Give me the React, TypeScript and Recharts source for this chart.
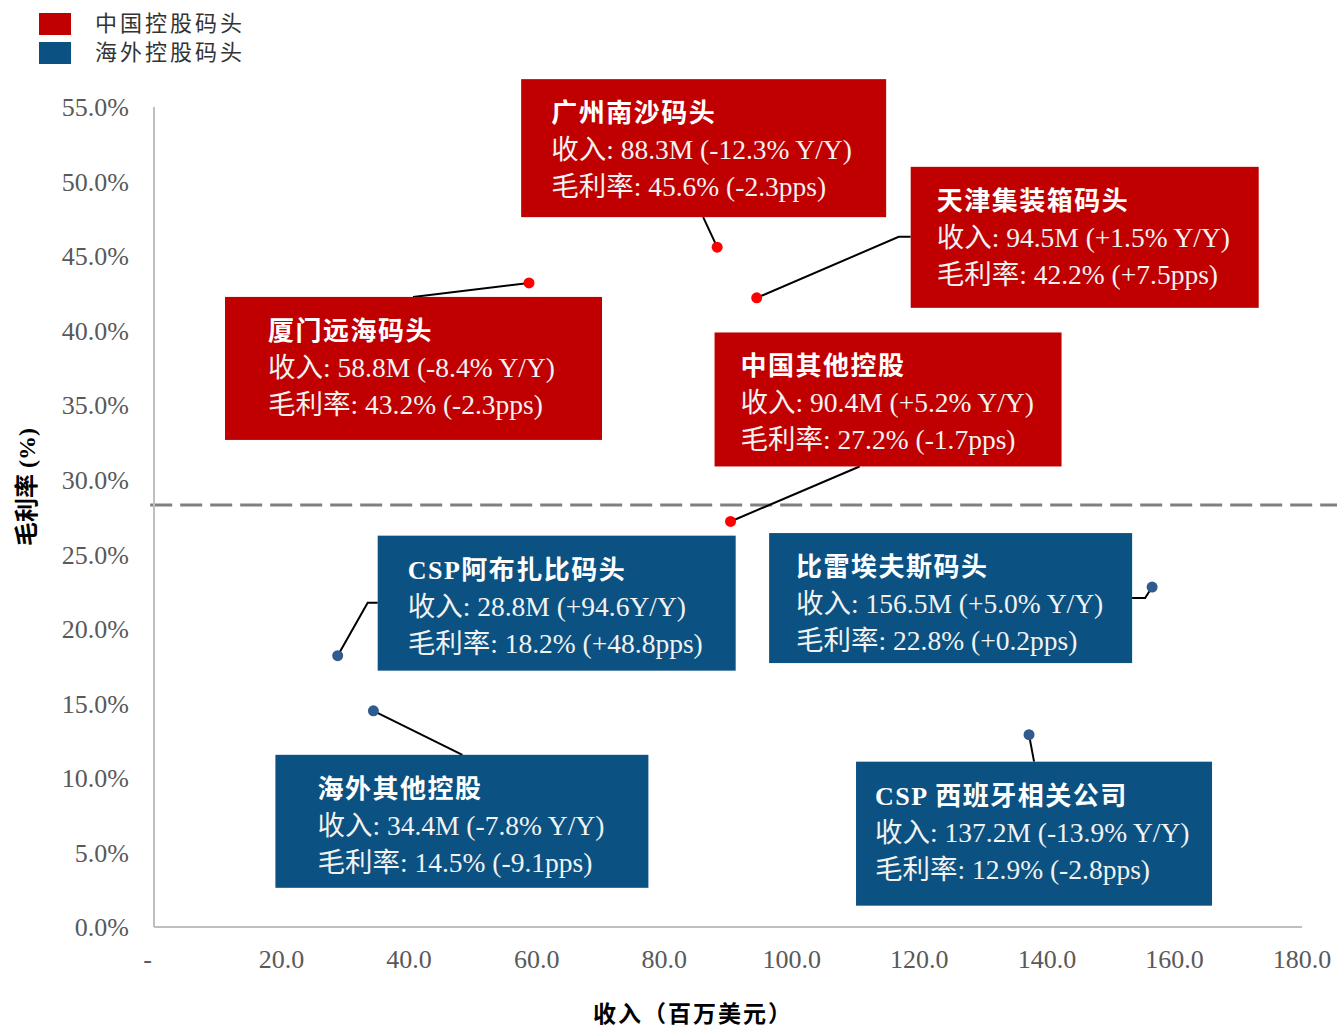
import React from "react";
import { ReferenceLine, Scatter, ScatterChart, XAxis, YAxis } from "recharts";

// ---- data ----
const chinaNames = ["广州南沙码头", "天津集装箱码头", "厦门远海码头", "中国其他控股"];
const chinaRevenue = [88.3, 94.5, 58.8, 90.4];
const chinaMargin = [45.6, 42.2, 43.2, 27.2];
const chinaRevChange = ["-12.3% Y/Y", "+1.5% Y/Y", "-8.4% Y/Y", "+5.2% Y/Y"];
const chinaMarginChange = ["-2.3pps", "+7.5pps", "-2.3pps", "-1.7pps"];

const overseasNames = ["CSP阿布扎比码头", "比雷埃夫斯码头", "海外其他控股", "CSP 西班牙相关公司"];
const overseasRevenue = [28.8, 156.5, 34.4, 137.2];
const overseasMargin = [18.2, 22.8, 14.5, 12.9];
const overseasRevChange = ["+94.6Y/Y", "+5.0% Y/Y", "-7.8% Y/Y", "-13.9% Y/Y"];
const overseasMarginChange = ["+48.8pps", "+0.2pps", "-9.1pps", "-2.8pps"];

const averageMargin = 28.3;

const xTicks = [0, 20, 40, 60, 80, 100, 120, 140, 160, 180];
const yTicks = [0, 5, 10, 15, 20, 25, 30, 35, 40, 45, 50, 55];

const legendLabels = ["中国控股码头", "海外控股码头"];

// ---- callout layout (pixel offsets from each point) ----
type Callout = {
  dx: number;
  dy: number;
  w: number;
  h: number;
  pad: number;
  leader: [number, number][];
};

const LAYOUT: Record<string, Callout> = {
  广州南沙码头: { dx: -196, dy: -168, w: 365, h: 138, pad: 30, leader: [[-14, -30]] },
  天津集装箱码头: { dx: 154, dy: -131, w: 348, h: 141, pad: 26, leader: [[142, -61], [154, -61]] },
  厦门远海码头: { dx: -304, dy: 14, w: 377, h: 143, pad: 43, leader: [[-116, 14]] },
  中国其他控股: { dx: -16, dy: -189, w: 347, h: 134, pad: 26, leader: [[129, -55]] },
  CSP阿布扎比码头: { dx: 40, dy: -120, w: 358, h: 135, pad: 30, leader: [[30, -53], [40, -53]] },
  比雷埃夫斯码头: { dx: -383, dy: -54, w: 363, h: 130, pad: 27, leader: [[-7, 11], [-20, 11]] },
  海外其他控股: { dx: -98, dy: 44, w: 373, h: 133, pad: 42, leader: [[89, 44]] },
  "CSP 西班牙相关公司": { dx: -173, dy: 27, w: 356, h: 144, pad: 19, leader: [[5, 27]] },
};

const RED_BOX = "#C00000";
const BLUE_BOX = "#0B5283";
const RED_DOT = "#FF0000";
const BLUE_DOT = "#2F5B8F";
const FONT = '"Liberation Serif", "Noto Sans CJK SC", serif';

type Point = {
  name: string;
  x: number;
  y: number;
  revChange: string;
  marginChange: string;
};

const chinaData: Point[] = chinaNames.map((name, i) => ({
  name,
  x: chinaRevenue[i],
  y: chinaMargin[i],
  revChange: chinaRevChange[i],
  marginChange: chinaMarginChange[i],
}));

const overseasData: Point[] = overseasNames.map((name, i) => ({
  name,
  x: overseasRevenue[i],
  y: overseasMargin[i],
  revChange: overseasRevChange[i],
  marginChange: overseasMarginChange[i],
}));

const makeShape = (boxColor: string, dotColor: string) => (props: any) => {
  const { cx, cy, payload } = props;
  const p = payload as Point;
  const l = LAYOUT[p.name];
  if (cx == null || cy == null || !l) return <g />;
  const bx = cx + l.dx;
  const by = cy + l.dy;
  const path = [[0, 0], ...l.leader]
    .map(([dx, dy], i) => `${i ? "L" : "M"}${cx + dx},${cy + dy}`)
    .join(" ");
  return (
    <g>
      <path d={path} stroke="#000" strokeWidth={2} fill="none" />
      <rect x={bx} y={by} width={l.w} height={l.h} fill={boxColor} />
      <text
        x={bx + l.pad}
        y={by + 43}
        fill="#fff"
        fontSize={26}
        fontWeight={700}
        letterSpacing={1.5}
        fontFamily={FONT}
      >
        {p.name}
      </text>
      <text x={bx + l.pad} y={by + 80} fill="#F2F2F2" fontSize={27.5} fontFamily={FONT}>
        {`收入: ${p.x.toFixed(1)}M (${p.revChange})`}
      </text>
      <text x={bx + l.pad} y={by + 117} fill="#F2F2F2" fontSize={27.5} fontFamily={FONT}>
        {`毛利率: ${p.y.toFixed(1)}% (${p.marginChange})`}
      </text>
      <circle cx={cx} cy={cy} r={5.5} fill={dotColor} />
    </g>
  );
};

const LegendBox = () => (
  <div style={{ position: "absolute", left: 39, top: 9, fontFamily: FONT }}>
    {legendLabels.map((label, i) => (
      <div key={label} style={{ display: "flex", alignItems: "center", height: 29 }}>
        <span
          style={{
            display: "inline-block",
            width: 32,
            height: 22,
            background: i === 0 ? RED_BOX : BLUE_BOX,
            marginRight: 24,
          }}
        />
        <span style={{ fontSize: 22, color: "#333", letterSpacing: 3, lineHeight: "29px" }}>
          {label}
        </span>
      </div>
    ))}
  </div>
);

export default function App() {
  const tickStyle = { fontSize: 26, fill: "#595959", fontFamily: FONT };
  return (
    <div
      style={{
        position: "absolute",
        left: 0,
        top: 0,
        width: 1337,
        height: 1027,
        background: "#fff",
      }}
    >
      <ScatterChart
        width={1337}
        height={1027}
        margin={{ top: 107, right: 35, bottom: 0, left: 0 }}
      >
        <XAxis
          type="number"
          dataKey="x"
          domain={[0, 180]}
          ticks={xTicks}
          interval={0}
          tickFormatter={(v: number) => (v === 0 ? "-\u00a0\u00a0" : v.toFixed(1))}
          tick={tickStyle}
          tickLine={false}
          tickMargin={17}
          axisLine={{ stroke: "#BFBFBF", strokeWidth: 2 }}
          height={100}
          label={{
            content: () => (
              <text
                x={693}
                y={1022}
                textAnchor="middle"
                fontSize={23}
                fontWeight={700}
                letterSpacing={2}
                fill="#000"
                fontFamily={FONT}
              >
                收入（百万美元）
              </text>
            ),
          }}
        />
        <YAxis
          type="number"
          dataKey="y"
          domain={[0, 55]}
          ticks={yTicks}
          interval={0}
          tickFormatter={(v: number) => `${v.toFixed(1)}%`}
          tick={tickStyle}
          tickLine={false}
          tickMargin={19}
          axisLine={{ stroke: "#BFBFBF", strokeWidth: 2 }}
          width={154}
          label={{
            content: () => (
              <text
                x={0}
                y={0}
                transform="translate(35,487) rotate(-90)"
                textAnchor="middle"
                fontSize={24}
                fontWeight={700}
                fill="#000"
                fontFamily={FONT}
              >
                毛利率 (%)
              </text>
            ),
          }}
        />
        <ReferenceLine
          segment={[
            { x: -0.6, y: averageMargin },
            { x: 185.6, y: averageMargin },
          ]}
          ifOverflow="visible"
          stroke="#808080"
          strokeWidth={3}
          strokeDasharray="22 8"
        />
        <Scatter
          name="中国控股码头"
          data={chinaData}
          fill={RED_DOT}
          shape={makeShape(RED_BOX, RED_DOT)}
          isAnimationActive={false}
        />
        <Scatter
          name="海外控股码头"
          data={overseasData}
          fill={BLUE_DOT}
          shape={makeShape(BLUE_BOX, BLUE_DOT)}
          isAnimationActive={false}
        />
      </ScatterChart>
      <LegendBox />
    </div>
  );
}
